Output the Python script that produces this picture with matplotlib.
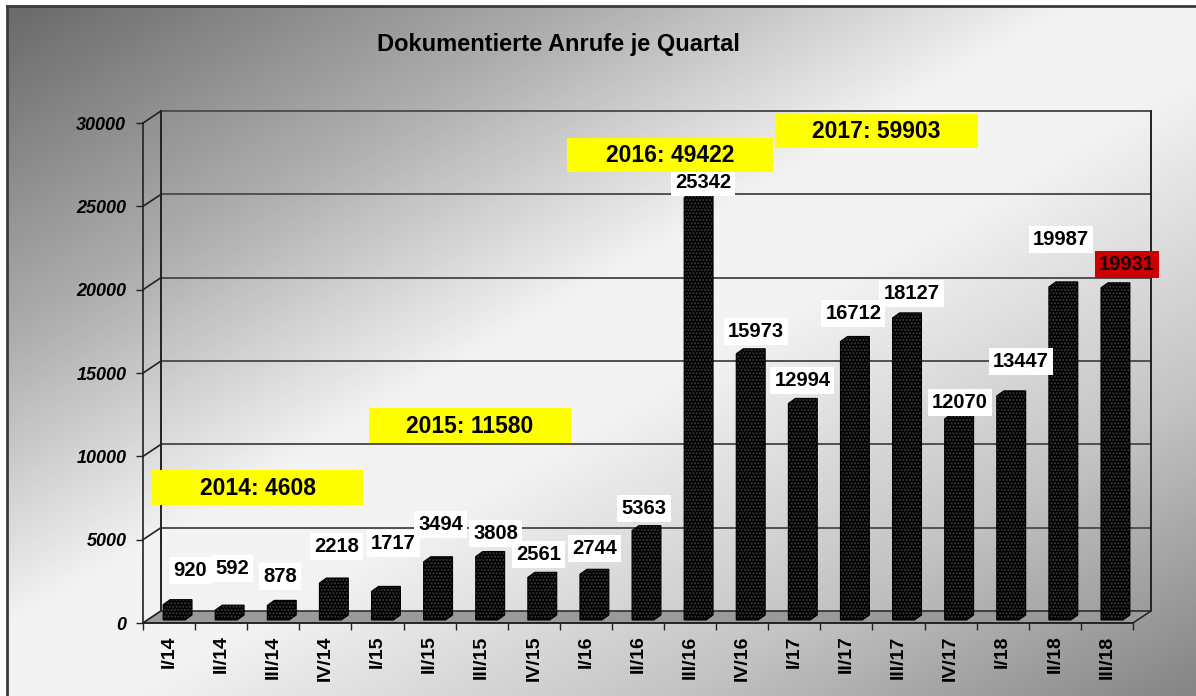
import numpy as np
import matplotlib
matplotlib.use("Agg")
import matplotlib.pyplot as plt
from matplotlib.patches import Polygon, Rectangle
from matplotlib.colors import LinearSegmentedColormap

plt.rcParams['font.family'] = ['Liberation Sans', 'DejaVu Sans']

# data
categories = ['I/14', 'II/14', 'III/14', 'IV/14', 'I/15', 'II/15', 'III/15', 'IV/15',
              'I/16', 'II/16', 'III/16', 'IV/16', 'I/17', 'II/17', 'III/17', 'IV/17',
              'I/18', 'II/18', 'III/18']
calls = [920, 592, 878, 2218, 1717, 3494, 3808, 2561, 2744, 5363,
         25342, 15973, 12994, 16712, 18127, 12070, 13447, 19987, 19931]
year_labels = ['2014: 4608', '2015: 11580', '2016: 49422', '2017: 59903']
yticks = [0, 5000, 10000, 15000, 20000, 25000, 30000]

# layout (pixels)
W, H = 1196, 696
label_offsets = [(21, 37), (11, 45), (7, 32), (11, 40), (16, 51), (11, 40), (14, 26),
                 (5, 26), (9, 29), (6, 25), (13, 18), (14, 25), (8, 26), (7, 31),
                 (13, 27), (9, 19), (18, 37), (6, 50), (20, 26)]
year_boxes = [(152, 470, 363, 505), (369, 408, 571, 443),
              (567, 138, 773, 172), (775, 114, 978, 148)]

fig = plt.figure(figsize=(W / 100, H / 100), dpi=100)
fig.patch.set_facecolor('white')

# background gradient + frame
bg = fig.add_axes([0, 0, 1, 1], zorder=0)
bg.set_xlim(0, W)
bg.set_ylim(H, 0)
bg.axis('off')
u = np.linspace(0, 1, 300)
v = np.linspace(0, 1, 300)
grad = (u[None, :] + v[:, None]) / 2
cmap = LinearSegmentedColormap.from_list('bg', [(0, '#6a6a6a'), (0.25, '#b0b0b0'),
                                                (0.45, '#f3f3f3'), (0.55, '#f3f3f3'),
                                                (0.78, '#c4c4c4'), (1, '#858585')])
bg.imshow(grad, cmap=cmap, extent=[7, W, H, 6], aspect='auto', vmin=0, vmax=1)
bg.plot([7, 7], [H, 6], color='#3a3a3a', lw=2)
bg.plot([7, W], [6, 6], color='#3a3a3a', lw=2)

# main axes = front plane of the 3d chart
x0, y0, x1, y1 = 143, 623, 1133, 123
ax = fig.add_axes([x0 / W, (H - y0) / H, (x1 - x0) / W, (y0 - y1) / H], zorder=2)
ax.set_facecolor('none')
n = len(categories)
ax.set_xlim(-0.5, n - 0.5)
ax.set_ylim(0, 30000)
px_x = n / (x1 - x0)
px_y = 30000 / (y0 - y1)
DX, DY = 18 * px_x, 12 * px_y

gc = '#505050'
for y in yticks[1:]:
    ax.plot([-0.5 + DX, n - 0.5 + DX], [y + DY, y + DY], color=gc, lw=1.4, clip_on=False, zorder=1)
for y in yticks:
    ax.plot([-0.5, -0.5 + DX], [y, y + DY], color='#222222', lw=1.2, clip_on=False, zorder=1)
ax.plot([-0.5 + DX] * 2, [DY, 30000 + DY], color='#222222', lw=1.4, clip_on=False, zorder=1)
ax.plot([n - 0.5 + DX] * 2, [DY, 30000 + DY], color='#222222', lw=1.4, clip_on=False, zorder=1)

floor = Polygon([(-0.5, 0), (n - 0.5, 0), (n - 0.5 + DX, DY), (-0.5 + DX, DY)],
                closed=True, facecolor='#9a9a9a', edgecolor='#222222', lw=1.1,
                clip_on=False, zorder=2)
ax.add_patch(floor)

# bars with a little depth
BX, BY = 5 * px_x, 3 * px_y
bdx, bdy = 7 * px_x, 5 * px_y
hw = 0.21
for i, val in enumerate(calls):
    L, R = i - hw + BX, i + hw + BX
    b, t = BY, val + BY
    pts = [(L, b), (L, t), (L + bdx, t + bdy), (R + bdx, t + bdy), (R + bdx, b + bdy), (R, b)]
    ax.add_patch(Polygon(pts, closed=True, facecolor='black', edgecolor='#3c3c3c',
                         hatch='.....', lw=0, clip_on=False, zorder=3))
    ax.add_patch(Polygon(pts, closed=True, fill=False, edgecolor='black', lw=0.8,
                         clip_on=False, zorder=3))

# value labels
for i, (val, (dx, dy)) in enumerate(zip(calls, label_offsets)):
    last = i == n - 1
    ax.annotate(str(val), xy=(i, val), xytext=(dx, dy), textcoords='offset pixels',
                ha='center', va='center', fontsize=14.5, fontweight='bold',
                color='#1a0000' if last else 'black', zorder=5,
                bbox=dict(boxstyle='square,pad=0.2', fc='#cc0000' if last else 'white', ec='none'))

# axes styling
for s in ['top', 'right']:
    ax.spines[s].set_visible(False)
ax.spines['left'].set_color('#222222')
ax.spines['bottom'].set_color('#222222')
ax.spines['left'].set_linewidth(1.2)
ax.spines['bottom'].set_linewidth(1.2)
ax.set_xticks(range(n))
ax.set_xticklabels(categories, rotation=90, fontsize=14, fontweight='bold')
ax.set_xticks(np.arange(-0.5, n, 1), minor=True)
ax.tick_params(axis='x', which='major', length=0, pad=9)
ax.tick_params(axis='x', which='minor', length=5, width=1, color='#222222')
ax.set_yticks(yticks)
ax.set_yticklabels([str(y) for y in yticks], fontsize=13, fontweight='bold', style='italic')
ax.tick_params(axis='y', length=5, width=1, color='#222222', pad=7)

# overlay: title and yearly totals
ov = fig.add_axes([0, 0, 1, 1], zorder=4)
ov.set_xlim(0, W)
ov.set_ylim(H, 0)
ov.axis('off')
ov.set_facecolor('none')
ov.text(558, 45, 'Dokumentierte Anrufe je Quartal', ha='center', va='center',
        fontsize=17, fontweight='bold')
for lbl, (bx0, by0, bx1, by1) in zip(year_labels, year_boxes):
    ov.add_patch(Rectangle((bx0, by0), bx1 - bx0, by1 - by0, facecolor='#ffff00', edgecolor='none'))
    ov.text((bx0 + bx1) / 2, (by0 + by1) / 2 + 1, lbl, ha='center', va='center',
            fontsize=16.5, fontweight='bold')

fig.savefig('out.png', dpi=100)
